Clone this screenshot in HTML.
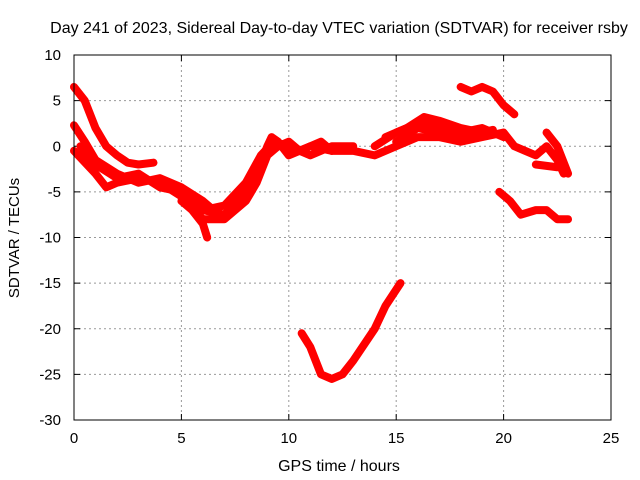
<!DOCTYPE html>
<html><head><meta charset="utf-8"><style>
body{margin:0;background:#fff}
svg{display:block;font-family:"Liberation Sans",sans-serif}
</style></head><body>
<svg id="chart" width="640" height="480">
<text x="339" y="33" font-size="16" text-anchor="middle">Day 241 of 2023, Sidereal Day-to-day VTEC variation (SDTVAR) for receiver rsby</text>
<text x="339" y="471" font-size="16" text-anchor="middle">GPS time / hours</text>
<text transform="translate(19,238) rotate(-90)" font-size="15" text-anchor="middle">SDTVAR / TECUs</text>
<g id="grid"></g><g id="marks"></g>
<rect x="74" y="55" width="537" height="365" fill="none" stroke="#000" stroke-width="1"/>
</svg>
<script>
const xTicks=[0,5,10,15,20,25];
const yTicks=[10,5,0,-5,-10,-15,-20,-25,-30];
const trackA=[[0,6.5],[0.5,5],[1,2],[1.5,0],[2,-1],[2.5,-1.8],[3,-2],[3.7,-1.8]];
const trackB=[[0,2.3],[0.5,0.5],[1,-1.5],[2,-3],[3,-4],[4,-3.5],[5,-4.5],[6,-6],[6.5,-7]];
const trackC=[[0,-0.5],[1,-3],[1.5,-4.5],[2,-4],[3,-3.5],[4,-4],[5,-5.5],[6,-8],[7,-8],[8,-6],[8.5,-4],[9,-1],[9.5,0],[10,0.5],[10.5,-0.5],[11,0],[12,-0.5]];
const trackD=[[5,-6],[5.5,-7],[6,-8.5],[6.2,-10]];
const trackE=[[6,-7],[7,-7.5],[8,-5],[8.5,-3],[9,0],[9.2,1],[9.5,0.5],[10,-1],[10.5,-0.5],[11,0],[11.5,0.5],[12,-0.5]];
const trackF=[[12,-0.5],[13,-0.5],[14,-1],[15,0],[16,1],[17,1],[18,0.5],[19,1],[20,1.5],[20.5,0],[21,-0.5],[21.5,-1],[22,0],[22.5,-1.5],[22.8,-3]];
const trackG=[[14.5,1],[15.5,2],[16.3,3.2],[17,2.8],[18,2],[19,1.5],[19.5,1.8]];
const trackH=[[15,0.5],[16,2],[17,1.5],[18,1],[19,1.5]];
const trackI=[[18,6.5],[18.5,6],[19,6.5],[19.5,6],[20,4.5],[20.5,3.5]];
const trackJ=[[22,1.5],[22.5,0],[23,-3]];
const trackK=[[21.5,-2],[22.5,-2.3]];
const trackL=[[19.8,-5],[20.3,-6],[20.8,-7.5],[21.5,-7],[22,-7],[22.5,-8],[23,-8]];
const trackM=[[10.6,-20.5],[11,-22],[11.5,-25],[12,-25.5],[12.5,-25],[13,-23.5],[14,-20],[14.5,-17.5],[15.2,-15]];
const trackN=[[0.3,0],[1,-2],[2,-3.5],[3,-3],[4,-4.5],[5,-5],[6,-7],[7,-6.5],[8,-4],[8.7,-1],[9.3,0.5],[10,0],[11,-1],[12,0],[13,0]];
const trackO=[[14,0],[15,1.5],[16,2.5],[17,2],[18,1.5],[19,2],[20,1]];
const tracks=[trackA,trackB,trackC,trackD,trackE,trackF,trackG,trackH,trackI,trackJ,trackK,trackL,trackM,trackN,trackO];
const X0=74,X1=611,Y0=420,Y1=55;
function sx(v){return X0+(v-0)/(25-0)*(X1-X0);}
function sy(v){return Y0-(v+30)/(40)*(Y0-Y1);}
const NS="http://www.w3.org/2000/svg";
const grid=document.getElementById('grid'),marks=document.getElementById('marks');
function mk(tag,attrs,parent){const e=document.createElementNS(NS,tag);for(const k in attrs)e.setAttribute(k,attrs[k]);parent.appendChild(e);return e;}
xTicks.forEach(t=>{const x=sx(t);
 if(t>0&&t<25){const g=mk('line',{x1:x,x2:x,y1:Y1,y2:Y0,stroke:'#999','stroke-dasharray':'2,3'},grid);
 
 }
 mk('line',{x1:x,x2:x,y1:Y0,y2:Y0-6,stroke:'#000'},grid);mk('line',{x1:x,x2:x,y1:Y1,y2:Y1+6,stroke:'#000'},grid);
 const l=mk('text',{x:x,y:Y0+23,'font-size':15,'text-anchor':'middle'},grid);l.textContent=t;
 
 });
yTicks.forEach(t=>{const y=sy(t);
 if(t>-30&&t<10){const g=mk('line',{x1:X0,x2:X1,y1:y,y2:y,stroke:'#999','stroke-dasharray':'2,3'},grid);
 
 }
 mk('line',{x1:X0,x2:X0+6,y1:y,y2:y,stroke:'#000'},grid);mk('line',{x1:X1,x2:X1-6,y1:y,y2:y,stroke:'#000'},grid);
 const l=mk('text',{x:X0-13,y:y+5,'font-size':15,'text-anchor':'end'},grid);l.textContent=t;
 
 });
tracks.forEach((tr,i)=>{const p=mk('polyline',{points:tr.map(d=>sx(d[0])+','+sy(d[1])).join(' '),fill:'none',stroke:'#f00','stroke-width':8,'stroke-linejoin':'round','stroke-linecap':'round'},marks);
 
 });
</script>
</body></html>
